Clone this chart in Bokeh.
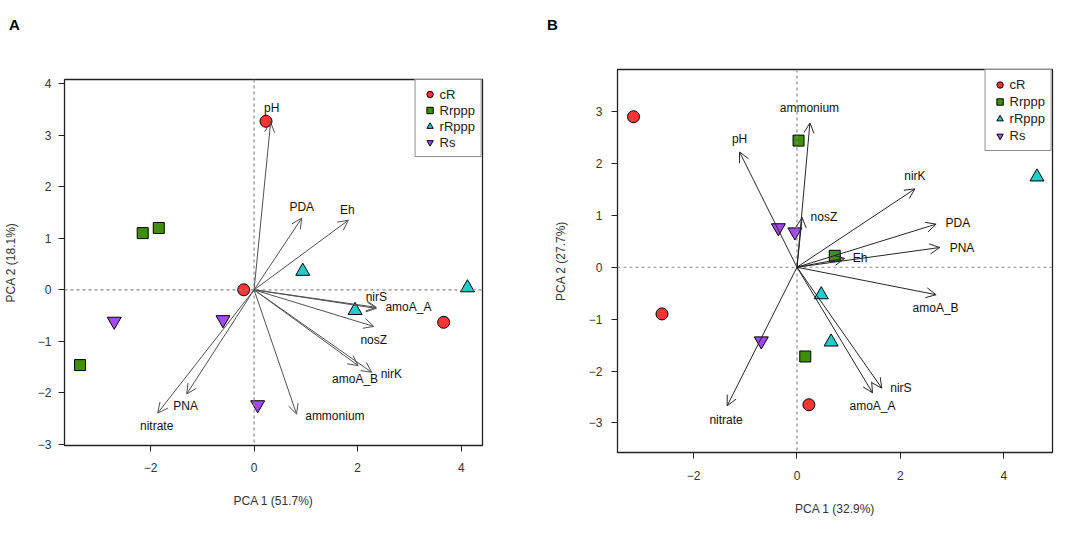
from bokeh.plotting import figure
from bokeh.models import (Range1d, FixedTicker, Span, Arrow, OpenHead, ColumnDataSource,
                          Legend, LegendItem, Div)
from bokeh.layouts import row, column
from bokeh.embed import file_html
from bokeh.resources import INLINE
from bokeh.core.properties import value

FONT = "Liberation Sans"

groups = ["cR", "Rrppp", "rRppp", "Rs"]
colors = ["#ff3535", "#3f8f0c", "#22cccc", "#a548f2"]
markers = ["circle", "square", "triangle", "inverted_triangle"]
msizes = [12, 11, 14, 14]

# ---------------- Panel A data ----------------
a_cR_x = [0.23, -0.20, 3.66]
a_cR_y = [3.27, 0.00, -0.63]
a_Rrppp_x = [-2.15, -1.84, -3.36]
a_Rrppp_y = [1.10, 1.20, -1.46]
a_rRppp_x = [0.94, 4.12, 1.95]
a_rRppp_y = [0.36, 0.04, -0.40]
a_Rs_x = [-2.70, -0.60, 0.07]
a_Rs_y = [-0.61, -0.58, -2.23]

a_vars = ["pH", "PDA", "Eh", "nirS", "amoA_A", "nosZ", "amoA_B", "nirK", "ammonium", "PNA", "nitrate"]
a_load_x = [0.32, 0.92, 1.82, 2.36, 2.36, 2.31, 2.01, 2.27, 0.82, -1.30, -1.86]
a_load_y = [3.25, 1.39, 1.35, -0.34, -0.36, -0.71, -1.47, -1.60, -2.41, -2.02, -2.39]
a_lab_x = [0.34, 0.92, 1.80, 2.36, 2.98, 2.31, 1.95, 2.65, 1.56, -1.32, -1.88]
a_lab_y = [3.52, 1.60, 1.55, -0.14, -0.34, -0.97, -1.73, -1.64, -2.45, -2.25, -2.65]

a_xticks = [-2, 0, 2, 4]
a_yticks = [-3, -2, -1, 0, 1, 2, 3, 4]
a_xlabel = "PCA 1 (51.7%)"
a_ylabel = "PCA 2 (18.1%)"

# ---------------- Panel B data ----------------
b_cR_x = [-3.16, -2.61, 0.23]
b_cR_y = [2.90, -0.90, -2.65]
b_Rrppp_x = [0.03, 0.73, 0.16]
b_Rrppp_y = [2.44, 0.22, -1.72]
b_rRppp_x = [4.64, 0.47, 0.66]
b_rRppp_y = [1.74, -0.53, -1.44]
b_Rs_x = [-0.36, -0.04, -0.69]
b_Rs_y = [0.76, 0.68, -1.42]

b_vars = ["pH", "ammonium", "nosZ", "nirK", "PDA", "PNA", "Eh", "amoA_B", "nirS", "amoA_A", "nitrate"]
b_load_x = [-1.11, 0.25, 0.10, 2.28, 2.69, 2.76, 0.92, 2.69, 1.64, 1.46, -1.35]
b_load_y = [2.22, 2.78, 0.96, 1.51, 0.83, 0.38, 0.17, -0.53, -2.33, -2.42, -2.67]
b_lab_x = [-1.11, 0.24, 0.52, 2.28, 3.11, 3.19, 1.22, 2.68, 2.01, 1.46, -1.37]
b_lab_y = [2.48, 3.06, 0.96, 1.76, 0.85, 0.38, 0.17, -0.79, -2.33, -2.68, -2.94]

b_xticks = [-2, 0, 2, 4]
b_yticks = [-3, -2, -1, 0, 1, 2, 3]
b_xlabel = "PCA 1 (32.9%)"
b_ylabel = "PCA 2 (27.7%)"


def make_panel(xr, yr, fw, fh, borders, xticks, yticks, xlabel, ylabel,
               scores, vars_, lx, ly, tx, ty, arrow_color,
               xstand, ystand, ylab_stand, legend_pad, legend_item_h):
    bl, bt, br, bb = borders
    p = figure(frame_width=fw, frame_height=fh,
               x_range=Range1d(*xr), y_range=Range1d(*yr),
               output_backend="svg", toolbar_location=None,
               min_border_left=bl, min_border_top=bt,
               min_border_right=br, min_border_bottom=bb)

    p.grid.visible = False
    p.outline_line_color = "#222222"
    p.outline_line_width = 1.3
    p.background_fill_color = "white"
    p.border_fill_color = "white"

    p.xaxis.ticker = FixedTicker(ticks=xticks)
    p.yaxis.ticker = FixedTicker(ticks=yticks)
    p.axis.axis_line_color = None
    p.axis.major_tick_line_color = "#222222"
    p.axis.major_tick_out = 6
    p.axis.major_tick_in = 0
    p.axis.minor_tick_line_color = None
    p.axis.major_label_text_font = FONT
    p.axis.major_label_text_font_size = "12px"
    p.axis.major_label_text_color = "#333333"
    p.xaxis.major_label_standoff = xstand
    p.yaxis.major_label_standoff = ystand
    p.xaxis.axis_label = xlabel
    p.yaxis.axis_label = ylabel
    p.axis.axis_label_text_font = FONT
    p.axis.axis_label_text_font_size = "12px"
    p.axis.axis_label_text_font_style = "normal"
    p.axis.axis_label_text_color = "#333333"
    p.xaxis.axis_label_standoff = 19
    p.yaxis.axis_label_standoff = ylab_stand

    p.add_layout(Span(location=0, dimension="width", line_color="#8a8a8a",
                      line_dash="3 3", line_width=1.2))
    p.add_layout(Span(location=0, dimension="height", line_color="#8a8a8a",
                      line_dash="3 3", line_width=1.2))

    src = ColumnDataSource(dict(x=lx, y=ly, tx=tx, ty=ty, name=vars_))
    p.add_layout(Arrow(end=OpenHead(size=10, line_color=arrow_color, line_width=1),
                       x_start=0, y_start=0, x_end="x", y_end="y", source=src,
                       line_color=arrow_color, line_width=1))
    p.text(x="tx", y="ty", text="name", source=src, text_align="center",
           text_baseline="middle", text_font=value(FONT), text_font_size="12px",
           text_color="#111111")

    items = []
    for g, c, m, s, (sx, sy) in zip(groups, colors, markers, msizes, scores):
        r = p.scatter(sx, sy, marker=m, size=s, fill_color=c, line_color="black",
                      line_width=1)
        items.append(LegendItem(label=g, renderers=[r]))

    legend = Legend(items=items, location="top_right", margin=0,
                    padding=legend_pad, spacing=-1, glyph_width=16,
                    glyph_height=legend_item_h, label_height=legend_item_h,
                    label_standoff=2, label_text_font=FONT,
                    label_text_font_size="13px", label_text_color="#222222",
                    border_line_color="#222222", border_line_width=1,
                    background_fill_alpha=1.0)
    p.add_layout(legend)
    return p


def letter_div(letter, width, pad_left):
    return Div(text=letter, width=width, height=40,
               styles={"font-family": FONT, "font-weight": "bold",
                       "font-size": "15px", "line-height": "18px",
                       "padding-top": "11px", "padding-left": f"{pad_left}px",
                       "color": "black", "box-sizing": "border-box"})


pA = make_panel((-3.66, 4.41), (-3.02, 4.08), 418, 366, (55, 29, 59, 80),
                a_xticks, a_yticks, a_xlabel, a_ylabel,
                [(a_cR_x, a_cR_y), (a_Rrppp_x, a_Rrppp_y),
                 (a_rRppp_x, a_rRppp_y), (a_Rs_x, a_Rs_y)],
                a_vars, a_load_x, a_load_y, a_lab_x, a_lab_y, "#505050",
                11, 7, 17, 6, 16)

pB = make_panel((-3.47, 4.94), (-3.57, 3.81), 435, 383, (75, 19, 26, 73),
                b_xticks, b_yticks, b_xlabel, b_ylabel,
                [(b_cR_x, b_cR_y), (b_Rrppp_x, b_Rrppp_y),
                 (b_rRppp_x, b_rRppp_y), (b_Rs_x, b_Rs_y)],
                b_vars, b_load_x, b_load_y, b_lab_x, b_lab_y, "#262626",
                12, 9, 18, 6, 17)

layout = row(column(letter_div("A", 532, 4), pA),
             column(letter_div("B", 536, 0), pB))
open("out.html", "w").write(file_html(layout, INLINE))
